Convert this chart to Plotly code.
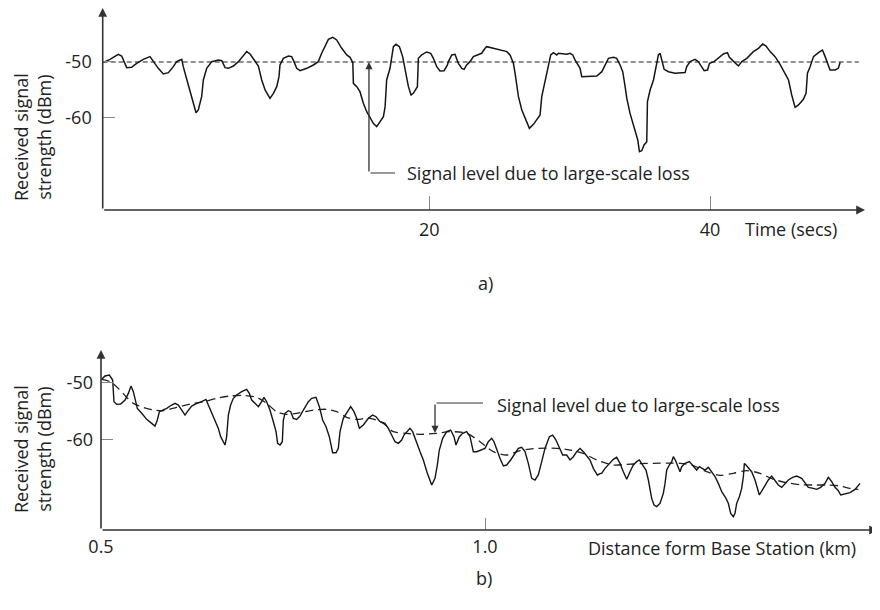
import plotly.graph_objects as go

# ---------------- data : panel a) ----------------
time_s = [
    -3.23, -2.75, -2.16, -1.92, -1.56, -1.21, -0.85, -0.38, 0.10, 0.34,
    0.69, 1.05, 1.41, 1.76, 2.00, 2.36, 2.47, 2.83, 3.07, 3.38,
    3.54, 3.78, 3.90, 4.14, 4.50, 4.97, 5.21, 5.45, 5.68, 6.04,
    6.40, 6.75, 6.99, 7.23, 7.58, 7.82, 8.06, 8.30, 8.65, 8.89,
    9.13, 9.29, 9.36, 9.60, 9.96, 10.19, 10.36, 10.55, 10.79, 11.27,
    11.74, 12.09, 12.33, 12.57, 12.81, 13.12, 13.40, 13.76, 14.12, 14.35,
    14.55, 14.59, 14.83, 15.06, 15.30, 15.54, 15.78, 16.01, 16.25, 16.49,
    16.73, 16.85, 16.96, 17.20, 17.32, 17.44, 17.63, 17.87, 18.10, 18.34,
    18.51, 18.70, 18.86, 19.15, 19.22, 19.46, 19.81, 20.10, 20.29, 20.53,
    20.76, 21.05, 21.29, 21.36, 21.60, 21.83, 21.95, 22.07, 22.31, 22.48,
    22.66, 22.90, 23.14, 23.50, 23.73, 23.97, 24.09, 24.56, 25.04, 25.52,
    25.75, 25.99, 26.11, 26.35, 26.59, 26.82, 27.13, 27.42, 27.65, 27.89,
    28.01, 28.18, 28.37, 28.56, 28.65, 28.84, 28.96, 29.08, 29.20, 29.43,
    29.79, 30.03, 30.22, 30.38, 30.55, 30.74, 30.86, 31.34,
    31.93, 32.29, 32.52, 32.76, 33.12, 33.35, 33.59, 33.78, 33.95, 34.07,
    34.30, 34.49, 34.66, 34.85, 34.97, 35.13, 35.30, 35.49, 35.54, 35.73,
    35.97, 36.16, 36.32, 36.44, 36.56, 36.73, 37.04, 37.51, 38.22, 38.34,
    38.58, 38.94, 39.17, 39.41, 39.58, 39.82, 39.96, 40.29, 40.60, 40.95,
    41.24, 41.38, 41.62, 41.79, 42.02, 42.26, 42.62, 43.09, 43.45, 43.75,
    43.99, 44.28, 44.63, 44.95, 45.35, 45.59, 45.82, 46.06, 46.30, 46.65,
    46.84, 46.94, 47.13, 47.37, 47.72, 48.01, 48.20, 48.36, 48.55, 48.91,
    49.14, 49.27,
]
signal_a = [
    -50.06, -49.52, -48.62, -48.92, -51.02, -50.96, -50.24, -49.52, -49.04, -49.94,
    -51.14, -52.15, -51.91, -50.84, -49.94, -49.52, -50.84, -54.13, -56.22, -59.10,
    -58.62, -56.22, -53.23, -51.14, -49.94, -49.64, -49.76, -51.02, -51.14, -50.72,
    -49.94, -48.92, -48.14, -48.56, -49.94, -50.72, -53.23, -55.03, -56.52, -55.63,
    -54.43, -52.63, -50.54, -49.34, -48.92, -49.04, -49.94, -51.14, -51.56, -51.14,
    -50.54, -49.94, -48.44, -47.25, -45.93, -45.57, -46.05, -47.55, -48.74, -49.16,
    -50.12, -53.83, -54.43, -55.33, -57.42, -58.92, -60.11, -61.01, -61.61, -60.71,
    -59.81, -58.02, -53.23, -51.14, -49.34, -47.25, -46.83, -47.25, -49.04, -52.03,
    -54.43, -55.92, -55.63, -54.43, -49.34, -48.74, -48.20, -48.44, -49.34, -50.84,
    -51.62, -51.56, -50.54, -49.94, -48.74, -48.62, -49.34, -50.24, -51.14, -51.32,
    -50.54, -49.94, -49.04, -48.74, -48.44, -47.55, -47.25, -47.55, -47.85, -48.14,
    -48.74, -50.24, -52.03, -56.22, -58.62, -60.11, -61.91, -61.19, -60.41, -59.52,
    -56.22, -54.13, -52.03, -49.94, -48.74, -48.32, -48.56, -48.74, -48.44, -48.56,
    -48.62, -48.44, -48.74, -49.64, -50.24, -51.14, -52.63, -52.63,
    -52.51, -51.74, -50.54, -49.34, -49.16, -49.34, -50.54, -51.74, -54.43, -56.52,
    -59.22, -61.01, -62.51, -64.00, -66.10, -65.92, -64.90, -64.30, -57.12, -55.03,
    -53.23, -50.84, -48.74, -48.44, -49.64, -51.32, -51.74, -52.03, -51.91, -50.84,
    -49.94, -49.52, -49.94, -50.84, -51.56, -51.44, -50.24, -49.94, -49.34, -48.56,
    -48.32, -49.16, -49.76, -50.24, -50.72, -49.94, -49.34, -48.14, -47.55, -46.77,
    -47.13, -48.14, -49.04, -50.24, -52.03, -53.23, -55.92, -58.14, -57.72, -56.70,
    -55.63, -52.03, -50.84, -49.04, -48.32, -47.85, -49.04, -50.24, -51.44, -51.44,
    -51.14, -50.06,
]
level_a_time = [-3.27, 50.6]
level_a = [-50, -50]

# ---------------- data : panel b) ----------------
dist_km = [
    0.5009, 0.5052, 0.5109, 0.5152, 0.5169, 0.5204, 0.5256, 0.5313, 0.5356, 0.5391,
    0.5421, 0.5443, 0.5473, 0.5530, 0.5595, 0.5660, 0.5703, 0.5734, 0.5760, 0.5790,
    0.5855, 0.5920, 0.5964, 0.6007, 0.6050, 0.6094, 0.6124, 0.6181, 0.6246, 0.6311,
    0.6367, 0.6398, 0.6441, 0.6484, 0.6528, 0.6558, 0.6584, 0.6615, 0.6636, 0.6658,
    0.6688, 0.6723, 0.6766, 0.6832, 0.6897, 0.6931, 0.6962, 0.7005, 0.7049, 0.7092,
    0.7122, 0.7157, 0.7200, 0.7244, 0.7279, 0.7300, 0.7331, 0.7361, 0.7374, 0.7396,
    0.7439, 0.7470, 0.7504, 0.7548, 0.7591, 0.7635, 0.7700, 0.7743, 0.7799, 0.7843,
    0.7886, 0.7930, 0.7973, 0.8016, 0.8060, 0.8090, 0.8112, 0.8155, 0.8207, 0.8251,
    0.8294, 0.8329,
    0.8364, 0.8416, 0.8481, 0.8537, 0.8581, 0.8633, 0.8698, 0.8741, 0.8785, 0.8828,
    0.8872, 0.8915, 0.8945, 0.8989, 0.9023, 0.9058, 0.9102, 0.9154, 0.9197, 0.9249,
    0.9306, 0.9349, 0.9379, 0.9405, 0.9449, 0.9501, 0.9553, 0.9596, 0.9622, 0.9640,
    0.9666, 0.9709, 0.9761, 0.9805, 0.9826, 0.9848, 0.9891, 0.9943, 1.0000, 1.0043,
    1.0087, 1.0117, 1.0152, 1.0195, 1.0239, 1.0282, 1.0334, 1.0391, 1.0434, 1.0477,
    1.0521, 1.0564, 1.0608, 1.0651, 1.0694, 1.0738, 1.0781, 1.0838, 1.0881, 1.0924,
    1.0968, 1.1011, 1.1063, 1.1107, 1.1150, 1.1194, 1.1237, 1.1281, 1.1333, 1.1367,
    1.1411, 1.1463, 1.1506,
    1.1519, 1.1563, 1.1619, 1.1671, 1.1714, 1.1758, 1.1801, 1.1845, 1.1888, 1.1931,
    1.1975, 1.2010, 1.2053, 1.2096, 1.2127, 1.2148, 1.2170, 1.2201, 1.2235, 1.2279,
    1.2322, 1.2344, 1.2366, 1.2400, 1.2431, 1.2452, 1.2478, 1.2504, 1.2539, 1.2561,
    1.2604, 1.2661, 1.2704, 1.2756, 1.2791, 1.2821, 1.2865, 1.2908, 1.2951, 1.2995,
    1.3038, 1.3082, 1.3138, 1.3168, 1.3199, 1.3233, 1.3255, 1.3277, 1.3312, 1.3342,
    1.3364, 1.3377, 1.3398, 1.3429, 1.3472, 1.3516, 1.3572, 1.3624, 1.3689, 1.3733,
    1.3776, 1.3819, 1.3863, 1.3906, 1.3950, 1.4006, 1.4058, 1.4123, 1.4167, 1.4210,
    1.4275, 1.4319, 1.4371, 1.4427, 1.4470, 1.4514, 1.4557, 1.4601, 1.4631, 1.4688,
    1.4753, 1.4818, 1.4883,
]
signal_b = [
    -49.41, -48.82, -48.65, -49.53, -53.33, -53.80, -53.74, -53.04, -51.87, -50.58,
    -51.57, -53.04, -54.50, -55.37, -56.43, -57.13, -57.60, -56.54, -55.08, -54.91,
    -54.50, -53.91, -53.62, -53.91, -54.79, -55.67, -55.08, -54.09, -53.62, -53.33,
    -52.92, -53.91, -55.08, -56.54, -58.01, -59.47, -60.05, -60.93, -59.47, -55.67,
    -53.91, -52.74, -52.16, -51.57, -51.16, -51.87, -53.04, -53.62, -54.20, -53.33,
    -52.57, -53.33, -54.79, -56.84, -58.59, -60.64, -60.93, -60.34, -56.54, -55.37,
    -54.91, -55.08, -56.25, -56.43, -55.84, -54.79, -53.33, -52.74, -52.57, -54.20,
    -56.54, -57.71, -59.47, -62.28, -62.28, -61.51, -58.59, -56.25, -55.08, -54.20,
    -55.08, -56.25,
    -58.01, -57.42, -56.25, -55.67, -55.96, -56.84, -57.13, -58.01, -59.18, -60.35,
    -60.64, -60.05, -59.18, -58.42, -58.01, -58.59, -60.05, -62.10, -63.56, -65.90,
    -67.95, -66.78, -64.44, -61.81, -59.76, -58.59, -58.30, -59.47, -60.93, -60.35,
    -59.47, -58.88, -58.59, -59.47, -60.93, -62.10, -62.10, -61.81, -61.52, -60.35,
    -59.76, -60.35, -61.81, -63.27, -64.61, -64.44, -63.56, -62.39, -61.52, -61.34,
    -62.10, -64.15, -66.78, -67.07, -66.19, -63.85, -61.52, -59.47, -59.18, -60.05,
    -61.52, -62.68, -62.68, -63.56, -62.98, -62.10, -61.52, -62.10, -62.98, -63.56,
    -65.02, -66.19, -65.90,
    -65.90, -65.02, -64.15, -63.44, -63.09, -64.15, -65.61, -66.95, -65.61, -64.44,
    -63.85, -63.56, -64.44, -65.32, -67.07, -68.82, -70.29, -71.46, -71.75, -71.16,
    -69.41, -67.66, -65.32, -64.44, -63.85, -62.98, -63.56, -64.44, -65.61, -64.73,
    -64.15, -63.85, -64.44, -65.32, -64.73, -65.02, -65.32, -64.85, -65.61, -66.48,
    -67.66, -69.12, -70.29, -71.16, -72.92, -73.50, -72.92, -71.16, -69.99, -68.53,
    -66.48, -64.15, -64.44, -65.02, -65.61, -67.07, -69.70, -68.53, -67.07, -66.37,
    -67.07, -67.95, -68.36, -67.77, -67.07, -66.60, -66.37, -66.78, -67.54, -68.36,
    -68.53, -68.71, -68.36, -67.66, -66.60, -67.36, -68.36, -68.94, -69.70, -69.53,
    -69.29, -68.71, -67.66,
]
level_b_dist = [
    0.5009, 0.5117, 0.5226, 0.5334, 0.5421, 0.5551, 0.5681, 0.5812, 0.5985, 0.6159,
    0.6332, 0.6506, 0.6680, 0.6853, 0.7027, 0.7157, 0.7287, 0.7418, 0.7591, 0.7765,
    0.7938, 0.8069, 0.8199, 0.8329,
    0.8503, 0.8676, 0.8806, 0.8980, 0.9154, 0.9371, 0.9544, 0.9761, 0.9935, 1.0109,
    1.0282, 1.0456, 1.0673, 1.0933, 1.1107, 1.1281, 1.1454,
    1.1671, 1.1845, 1.2018, 1.2192, 1.2366, 1.2539, 1.2713, 1.2886, 1.3060, 1.3234,
    1.3407, 1.3581, 1.3755, 1.3928, 1.4102, 1.4275, 1.4449, 1.4622, 1.4753, 1.4861,
]
level_b = [
    -49.41, -49.82, -50.99, -52.57, -53.62, -54.32, -54.79, -54.91, -54.32, -53.74,
    -53.33, -52.74, -52.33, -52.22, -52.57, -53.62, -55.08, -55.55, -55.26, -54.79,
    -54.67, -55.08, -56.08, -56.43,
    -56.25, -57.13, -58.59, -58.88, -59.06, -58.88, -58.59, -58.88, -60.35, -62.10,
    -62.68, -61.92, -61.52, -61.52, -61.81, -62.39, -63.56,
    -64.44, -64.32, -64.20, -64.15, -64.09, -64.15, -64.55, -65.61, -66.25, -65.90,
    -65.43, -65.90, -66.95, -67.54, -67.89, -67.95, -67.95, -68.12, -68.53, -68.71,
]

ticks_a_x = [20, 40]
ticks_a_y = [-50, -60]
ticks_a_y_text = ["-50", "-60"]
ticks_b_x = [0.5, 1.0]
ticks_b_x_text = ["0.5", "1.0"]
ticks_b_y = [-50, -60]
ticks_b_y_text = ["-50", "-60"]

# ---------------- figure geometry ----------------
# the page body has an 8px margin; the figure fills the rest of the 880x610 window
OFF = 8
W, H = 880 - OFF, 610 - OFF


def px(X):
    return (X - OFF) / W


def py(Y):
    return 1 - (Y - OFF) / H


FONT = "'Open Sans', sans-serif"
FS = 18
TXT = "#222222"
AX = "#333333"
TICKC = "#888888"

xa_range = [-3.27, 51.04]
ya_range = [-76.57, -40.31]
xb_range = [0.5, 1.5117]
yb_range = [-75.84, -44.26]

fig = go.Figure()

fig.add_trace(go.Scatter(x=level_a_time, y=level_a, mode="lines", xaxis="x", yaxis="y",
                         line=dict(color="#222222", width=1.1, dash="5px,3px"), hoverinfo="skip"))
fig.add_trace(go.Scatter(x=time_s, y=signal_a, mode="lines", xaxis="x", yaxis="y",
                         line=dict(color="#151515", width=1.5)))
fig.add_trace(go.Scatter(x=level_b_dist, y=level_b, mode="lines", xaxis="x2", yaxis="y2",
                         line=dict(color="#222222", width=1.3, dash="8px,5px", shape="spline", smoothing=0.8),
                         hoverinfo="skip"))
fig.add_trace(go.Scatter(x=dist_km, y=signal_b, mode="lines", xaxis="x2", yaxis="y2",
                         line=dict(color="#151515", width=1.4)))

axis_common = dict(showgrid=False, zeroline=False, showline=False, ticks="inside", automargin=False,
                   tickcolor=TICKC, tickwidth=1.2, tickfont=dict(size=FS, color=TXT, family=FONT),
                   fixedrange=True)

fig.update_layout(
    width=W, height=H,
    margin=dict(l=0, r=0, t=0, b=0, autoexpand=False),
    paper_bgcolor="white", plot_bgcolor="white",
    showlegend=False,
    font=dict(family=FONT, size=FS, color=TXT),
    xaxis=dict(axis_common, domain=[px(102.7), px(865)], range=xa_range, anchor="y",
               tickvals=ticks_a_x, ticklen=14, ticklabelstandoff=7),
    yaxis=dict(axis_common, domain=[py(210), py(8)], range=ya_range, anchor="x",
               tickvals=ticks_a_y, ticktext=ticks_a_y_text, ticklen=12, ticklabelstandoff=10),
    xaxis2=dict(axis_common, domain=[px(101), px(878)], range=xb_range, anchor="y2",
                tickvals=ticks_b_x, ticktext=ticks_b_x_text, ticklen=12, ticklabelstandoff=4),
    yaxis2=dict(axis_common, domain=[py(530), py(350)], range=yb_range, anchor="x2",
                tickvals=ticks_b_y, ticktext=ticks_b_y_text, ticklen=12, ticklabelstandoff=7),
)

ann = []
# axis lines with arrow heads
arrow_style = dict(showarrow=True, arrowhead=2, arrowsize=1.1, arrowwidth=1.6,
                   arrowcolor=AX, text="")
ann.append(dict(arrow_style, xref="x", yref="y", axref="x", ayref="y",
                x=xa_range[1], y=ya_range[0], ax=xa_range[0], ay=ya_range[0]))
ann.append(dict(arrow_style, xref="x", yref="y", axref="x", ayref="y",
                x=xa_range[0], y=ya_range[1], ax=xa_range[0], ay=ya_range[0]))
ann.append(dict(arrow_style, xref="x2", yref="y2", axref="x2", ayref="y2",
                x=xb_range[1], y=yb_range[0], ax=xb_range[0], ay=yb_range[0]))
ann.append(dict(arrow_style, xref="x2", yref="y2", axref="x2", ayref="y2",
                x=xb_range[0], y=yb_range[1], ax=xb_range[0], ay=yb_range[0]))

# callout a)
ann.append(dict(xref="x", yref="y", axref="x", ayref="y", x=15.70, y=-50.0, ax=15.70, ay=-69.93,
                showarrow=True, arrowhead=2, arrowsize=1.1, arrowwidth=1.3, arrowcolor=AX, text=""))
ann.append(dict(xref="x", yref="y", axref="x", ayref="y", x=17.56, y=-69.93, ax=15.70, ay=-69.93,
                showarrow=True, arrowhead=0, arrowwidth=1.2, arrowcolor=AX, text=""))
ann.append(dict(xref="x", yref="y", x=18.27, y=-69.93, xanchor="left", yanchor="middle",
                showarrow=False, text="Signal level due to large-scale loss",
                font=dict(size=FS, color=TXT, family=FONT)))
# callout b)
ann.append(dict(xref="x2", yref="y2", axref="x2", ayref="y2", x=0.9349, y=-58.82, ax=0.9349, ay=-53.56,
                showarrow=True, arrowhead=2, arrowsize=1.1, arrowwidth=1.3, arrowcolor=AX, text=""))
ann.append(dict(xref="x2", yref="y2", axref="x2", ayref="y2", x=0.9974, y=-53.56, ax=0.9349, ay=-53.56,
                showarrow=True, arrowhead=0, arrowwidth=1.2, arrowcolor=AX, text=""))
ann.append(dict(xref="x2", yref="y2", x=1.013, y=-53.91, xanchor="left", yanchor="middle",
                showarrow=False, text="Signal level due to large-scale loss",
                font=dict(size=FS, color=TXT, family=FONT)))

# axis titles
ann.append(dict(xref="paper", yref="paper", x=px(743), y=py(229), xanchor="left", yanchor="middle",
                showarrow=False, text="Time (secs)", font=dict(size=FS, color=TXT, family=FONT)))
ann.append(dict(xref="paper", yref="paper", x=px(586), y=py(548), xanchor="left", yanchor="middle",
                showarrow=False, text="Distance form Base Station (km)", font=dict(size=FS, color=TXT, family=FONT)))
for yc in (137, 449):
    ann.append(dict(xref="paper", yref="paper", x=px(32), y=py(yc), xanchor="center", yanchor="middle",
                    showarrow=False, textangle=-90, text="Received signal<br>strength (dBm)",
                    font=dict(size=FS, color=TXT, family=FONT)))
# panel captions
ann.append(dict(xref="paper", yref="paper", x=px(485), y=py(283), showarrow=False, text="a)",
                font=dict(size=FS, color=TXT, family=FONT)))
ann.append(dict(xref="paper", yref="paper", x=px(484), y=py(592), showarrow=False, text="b)",
                font=dict(size=FS, color=TXT, family=FONT)))

fig.update_layout(annotations=ann)
fig.write_html("out.html")
